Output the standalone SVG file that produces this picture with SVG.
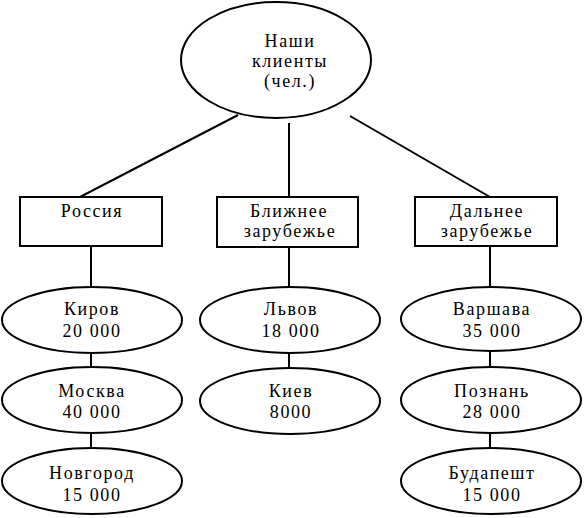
<svg xmlns="http://www.w3.org/2000/svg" width="584" height="518" viewBox="0 0 584 518">
<style>
.n{fill:#fff;stroke:#000;stroke-width:2}
text{font-family:"Liberation Serif",serif;font-size:18px;letter-spacing:1.6px;text-anchor:middle;fill:#000}
.c{stroke:#000;stroke-width:2;fill:none}
</style>
<rect width="584" height="518" fill="#fff"/>
<g id="connectors">
<line class="c" x1="238" y1="115" x2="80" y2="197"/>
<line class="c" x1="289" y1="123" x2="289" y2="197"/>
<line class="c" x1="350" y1="116" x2="490" y2="197"/>
<line class="c" x1="91" y1="246" x2="91" y2="287"/>
<line class="c" x1="289" y1="247" x2="289" y2="287"/>
<line class="c" x1="490" y1="246" x2="490" y2="287"/>
<line class="c" x1="91" y1="352" x2="91" y2="367"/>
<line class="c" x1="91" y1="433" x2="91" y2="448"/>
<line class="c" x1="289" y1="352" x2="289" y2="368"/>
<line class="c" x1="490" y1="351" x2="490" y2="367"/>
<line class="c" x1="490" y1="433" x2="490" y2="448"/>
</g>
<g id="root">
<ellipse class="n" cx="276" cy="60" rx="95" ry="58"/>
<text x="290" y="47">Наши</text>
<text x="290" y="67">клиенты</text>
<text x="290" y="87">(чел.)</text>
</g>
<g id="russia">
<rect class="n" x="20" y="197" width="142" height="49"/>
<text x="92" y="217">Россия</text>
</g>
<g id="near">
<rect class="n" x="217" y="197" width="141" height="50"/>
<text x="289" y="217">Ближнее</text>
<text x="290" y="237">зарубежье</text>
</g>
<g id="far">
<rect class="n" x="415" y="197" width="142" height="49"/>
<text x="487" y="217">Дальнее</text>
<text x="487" y="237">зарубежье</text>
</g>
<g id="kirov">
<ellipse class="n" cx="92" cy="320" rx="90" ry="33"/>
<text x="92" y="315">Киров</text>
<text x="92" y="337">20 000</text>
</g>
<g id="moskva">
<ellipse class="n" cx="92" cy="400" rx="90" ry="33"/>
<text x="92" y="397">Москва</text>
<text x="92" y="418">40 000</text>
</g>
<g id="novgorod">
<ellipse class="n" cx="92" cy="481" rx="90" ry="33"/>
<text x="92" y="479">Новгород</text>
<text x="92" y="501">15 000</text>
</g>
<g id="lvov">
<ellipse class="n" cx="290" cy="320" rx="90" ry="33"/>
<text x="291" y="315">Львов</text>
<text x="291" y="337">18 000</text>
</g>
<g id="kiev">
<ellipse class="n" cx="290" cy="401" rx="90" ry="33"/>
<text x="291" y="397">Киев</text>
<text x="291" y="418">8000</text>
</g>
<g id="varshava">
<ellipse class="n" cx="491" cy="319" rx="90" ry="32"/>
<text x="492" y="315">Варшава</text>
<text x="492" y="337">35 000</text>
</g>
<g id="poznan">
<ellipse class="n" cx="491" cy="400" rx="90" ry="33"/>
<text x="492" y="397">Познань</text>
<text x="492" y="418">28 000</text>
</g>
<g id="budapest">
<ellipse class="n" cx="491" cy="481" rx="90" ry="33"/>
<text x="492" y="479">Будапешт</text>
<text x="492" y="501">15 000</text>
</g>
</svg>
